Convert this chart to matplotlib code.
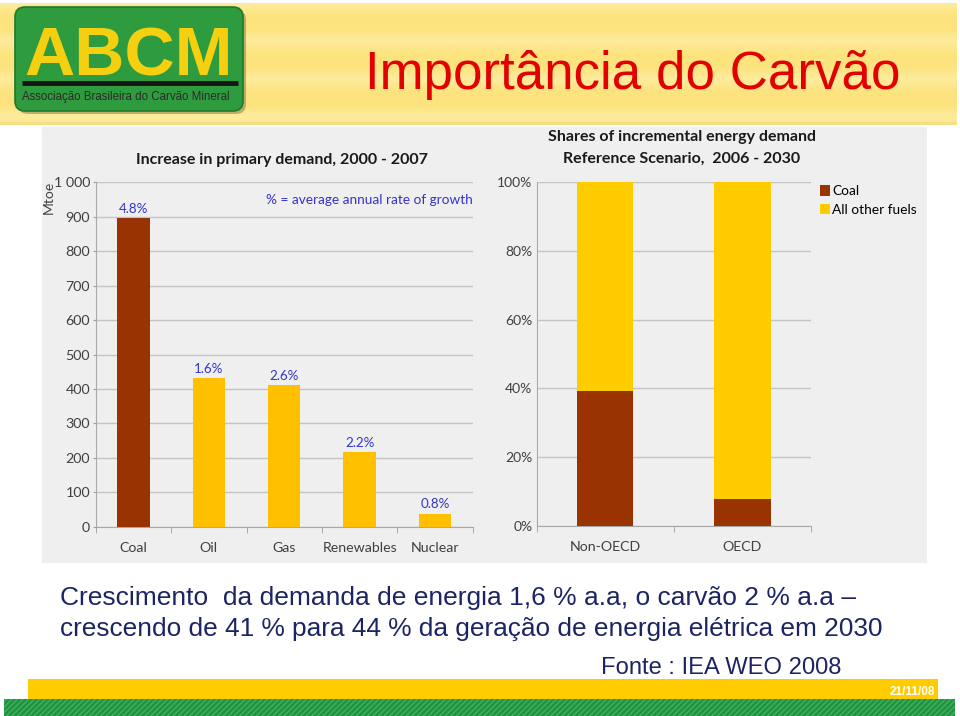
import matplotlib
matplotlib.use('Agg')
import matplotlib.pyplot as plt
from matplotlib.patches import Rectangle, FancyBboxPatch
import numpy as np

# ---------------- data ----------------
fuels = ['Coal', 'Oil', 'Gas', 'Renewables', 'Nuclear']
demand_increase = [895, 431, 410, 216, 37]
growth_labels = ['4.8%', '1.6%', '2.6%', '2.2%', '0.8%']
left_yticks = [0, 100, 200, 300, 400, 500, 600, 700, 800, 900, 1000]
left_yticklabels = ['0', '100', '200', '300', '400', '500', '600', '700', '800', '900', '1 000']

regions = ['Non-OECD', 'OECD']
coal_share = [39.3, 7.9]
other_share = [60.7, 92.1]
pct_ticks = [0, 20, 40, 60, 80, 100]
pct_ticklabels = ['0%', '20%', '40%', '60%', '80%', '100%']
series_names = ['Coal', 'All other fuels']

title_text = 'Importância do Carvão'
logo_text = 'ABCM'
logo_sub = 'Associação Brasileira do Carvão Mineral'
body_line1 = 'Crescimento  da demanda de energia 1,6 % a.a, o carvão 2 % a.a –'
body_line2 = 'crescendo de 41 % para 44 % da geração de energia elétrica em 2030'
source_text = 'Fonte : IEA WEO 2008'
date_text = '21/11/08'

# ---------------- styles ----------------
BROWN = '#993300'
YELLOW_L = '#FFC000'
YELLOW_R = '#FFCC00'
BLUE = '#3333CC'
GRID = '#C4C4C4'
TICK = '#404040'
NAVY = '#1C2463'
CHART_FONT = ['Lato', 'DejaVu Sans']
ARIAL = ['Liberation Sans', 'DejaVu Sans']

W, H = 960, 716
fig = plt.figure(figsize=(9.6, 7.16), dpi=100)
fig.patch.set_facecolor('white')

bg = fig.add_axes([0, 0, 1, 1])
bg.set_xlim(0, W)
bg.set_ylim(H, 0)
bg.axis('off')

# header band (stripy pale yellow)
rows = np.linspace(0, 1, 122)
base = np.array([252, 227, 125]) / 255.0
light = np.array([255, 241, 175]) / 255.0
w = (0.5 + 0.5 * np.cos(rows * 2 * np.pi * 3.2)) ** 2 * 0.6
grad = base[None, :] * (1 - w[:, None]) + light[None, :] * w[:, None]
grad[-3:] = np.array([246, 222, 130]) / 255.0
bg.imshow(grad[:, None, :], extent=(0, 957, 125, 3), aspect='auto', zorder=0)

# logo
bg.add_patch(FancyBboxPatch((18, 10), 228, 104, boxstyle='round,pad=0,rounding_size=10',
                            fc='#6a6a40', ec='none', alpha=0.45, zorder=1))
bg.add_patch(FancyBboxPatch((15, 7), 228, 104, boxstyle='round,pad=0,rounding_size=10',
                            fc='#2E9B3E', ec='#1E7A2C', lw=1.2, zorder=2))
bg.text(129, 76, logo_text, family=ARIAL, weight='bold', fontsize=50,
        color='#F5D010', ha='center', va='baseline', zorder=3)
bg.plot([22, 238], [82.5, 82.5], color='#151515', lw=3.5, zorder=3, solid_capstyle='butt')
bg.text(22, 100, logo_sub, family=ARIAL, fontsize=8.3, color='#2b2b2b',
        ha='left', va='baseline', zorder=3)

# title
bg.text(365, 89, title_text, family=ARIAL, fontsize=38.1, color='#E30000',
        ha='left', va='baseline', zorder=3)

# chart panel
bg.add_patch(Rectangle((42, 127), 885, 436, fc='#EFEFEF', ec='none', zorder=1))

# body text
bg.text(60, 605, body_line1, family=ARIAL, fontsize=19, color=NAVY, ha='left', va='baseline')
bg.text(60, 636, body_line2, family=ARIAL, fontsize=18.95, color=NAVY, ha='left', va='baseline')
bg.text(601, 674, source_text, family=ARIAL, fontsize=17.1, color=NAVY, ha='left', va='baseline')

# footer
bg.add_patch(Rectangle((28, 679), 910, 20, fc='#FFCC00', ec='none', zorder=1))
plt.rcParams['hatch.linewidth'] = 1.0
bg.add_patch(Rectangle((4, 699), 951, 17, fc='#1E9440', ec='#44B060', hatch='//////', lw=0, zorder=1))
bg.text(935, 695, date_text, family=ARIAL, fontsize=8.5, weight='bold', color='white',
        ha='right', va='baseline', zorder=3)

# ---------------- left chart ----------------
ax1 = fig.add_axes([95.7 / W, 1 - 526.7 / H, 377 / W, 344.4 / H])
ax1.set_facecolor('none')
x1 = np.arange(len(fuels))
colors1 = [BROWN] + [YELLOW_L] * (len(fuels) - 1)
bars = ax1.bar(x1, demand_increase, width=0.43, color=colors1, zorder=3)
for b, lab in zip(bars, growth_labels):
    ax1.annotate(lab, (b.get_x() + b.get_width() / 2, b.get_height()), xytext=(0, 2.5),
                 textcoords='offset points', ha='center', va='bottom', color=BLUE,
                 family=CHART_FONT, fontsize=9.6)
ax1.set_xlim(-0.5, len(fuels) - 0.5)
ax1.set_ylim(0, 1000)
ax1.set_yticks(left_yticks, left_yticklabels)
ax1.set_xticks(x1, fuels)
ax1.set_xticks(np.arange(-0.5, len(fuels), 1), minor=True)
ax1.tick_params(axis='x', which='major', length=0, pad=11, labelsize=10.2, labelcolor=TICK)
ax1.tick_params(axis='x', which='minor', length=4, color='#A0A0A0', direction='out')
ax1.tick_params(axis='y', length=2, color='#A0A0A0', pad=2, labelsize=10.3, labelcolor=TICK)
for lab in ax1.get_xticklabels() + ax1.get_yticklabels():
    lab.set_family(CHART_FONT)
ax1.yaxis.grid(True, color=GRID, lw=1)
ax1.set_axisbelow(True)
for s in ['top', 'right']:
    ax1.spines[s].set_visible(False)
for s in ['left', 'bottom']:
    ax1.spines[s].set_color('#A8A8A8')
bg.text(49, 197, 'Mtoe', rotation=90, family=CHART_FONT, fontsize=10, color=TICK,
        ha='center', va='center', zorder=3)
bg.text(282, 160, 'Increase in primary demand, 2000 - 2007', family=CHART_FONT, weight='bold',
        fontsize=11.5, color='#1a1a1a', ha='center', va='center', zorder=3)
bg.text(473, 200, '% = average annual rate of growth', family=CHART_FONT, fontsize=9.8,
        color=BLUE, ha='right', va='center', zorder=3)

# ---------------- right chart ----------------
ax2 = fig.add_axes([536.7 / W, 1 - 525.7 / H, 274.3 / W, 343.4 / H])
ax2.set_facecolor('none')
x2 = np.arange(len(regions))
b_coal = ax2.bar(x2, coal_share, width=0.41, color=BROWN, zorder=3, label=series_names[0])
b_other = ax2.bar(x2, other_share, bottom=coal_share, width=0.41, color=YELLOW_R, zorder=3,
                  label=series_names[1])
ax2.set_xlim(-0.5, len(regions) - 0.5)
ax2.set_ylim(0, 100)
ax2.set_yticks(pct_ticks, pct_ticklabels)
ax2.set_xticks(x2, regions)
ax2.set_xticks(np.arange(-0.5, len(regions), 1), minor=True)
ax2.tick_params(axis='x', which='major', length=0, pad=11, labelsize=10.2, labelcolor=TICK)
ax2.tick_params(axis='x', which='minor', length=4, color='#A0A0A0', direction='out')
ax2.tick_params(axis='y', length=0, pad=3, labelsize=10, labelcolor=TICK)
for lab in ax2.get_xticklabels() + ax2.get_yticklabels():
    lab.set_family(CHART_FONT)
ax2.yaxis.grid(True, color=GRID, lw=1)
ax2.set_axisbelow(True)
for s in ['top', 'right']:
    ax2.spines[s].set_visible(False)
for s in ['left', 'bottom']:
    ax2.spines[s].set_color('#A8A8A8')
bg.text(682, 137, 'Shares of incremental energy demand', family=CHART_FONT, weight='bold',
        fontsize=11.5, color='#1a1a1a', ha='center', va='center', zorder=3)
bg.text(682, 159, 'Reference Scenario,  2006 - 2030', family=CHART_FONT, weight='bold',
        fontsize=11.5, color='#1a1a1a', ha='center', va='center', zorder=3)
ax2.legend(handles=[b_coal, b_other], loc='upper left', bbox_to_anchor=(820 / W, 1 - 185 / H),
           bbox_transform=fig.transFigure, frameon=False,
           handlelength=0.7, handleheight=0.8, handletextpad=0.2, labelspacing=0.5,
           borderaxespad=0, borderpad=0, prop={'family': CHART_FONT, 'size': 9.9})

fig.savefig('out.png', dpi=100)
